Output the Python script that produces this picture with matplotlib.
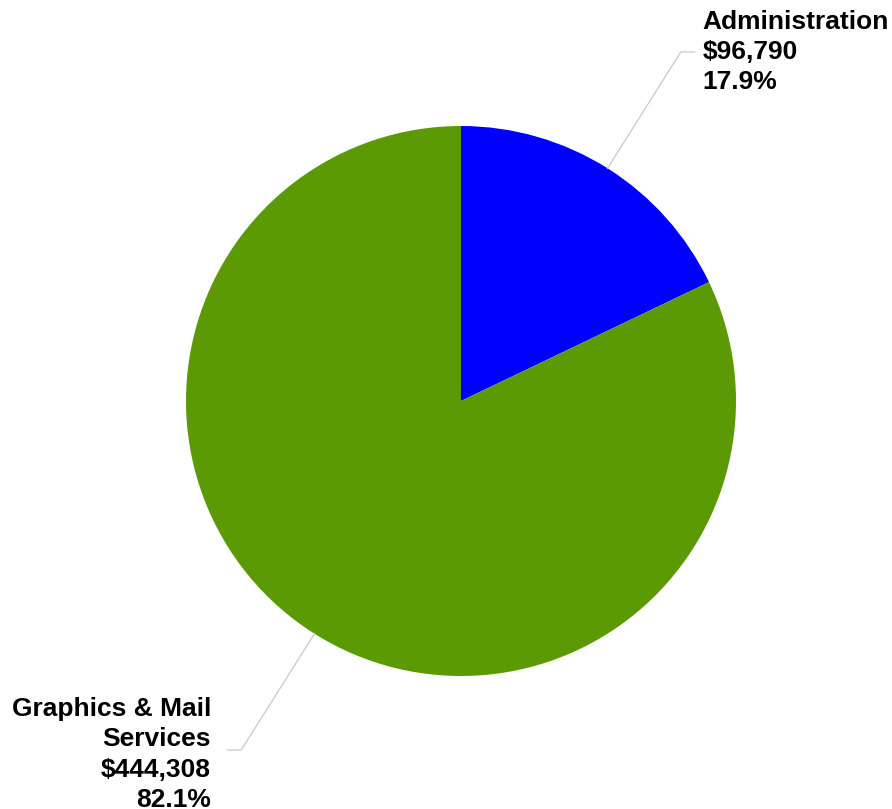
import numpy as np
import matplotlib.pyplot as plt

labels = ['Administration', 'Graphics & Mail\nServices']
values = [96790, 444308]
colors = ['#0000ff', '#5b9a05']

W, H = 892, 809
fig = plt.figure(figsize=(W / 100, H / 100), dpi=100)
ax = fig.add_axes([0, 0, 1, 1])

cx, cy, r = 461, H - 401, 275
wedges, _ = ax.pie(values, colors=colors, startangle=90, counterclock=False,
                   center=(cx, cy), radius=r, frame=True,
                   wedgeprops=dict(linewidth=0))
ax.set_xlim(0, W)
ax.set_ylim(0, H)
ax.set_aspect('equal')
ax.axis('off')

total = sum(values)
font = dict(family=['Liberation Sans', 'DejaVu Sans'], fontsize=19,
            fontweight='bold', color='black', linespacing=1.33)

for w, lab, v in zip(wedges, labels, values):
    mid = np.deg2rad((w.theta1 + w.theta2) / 2)
    dx, dy = np.cos(mid), np.sin(mid)
    x0, y0 = cx + r * dx, cy + r * dy
    x1, y1 = cx + 1.5 * r * dx, cy + 1.5 * r * dy
    side = 1 if dx >= 0 else -1
    x2 = x1 + side * 14
    ax.plot([x0, x1, x2], [y0, y1, y1], color='#c8c8c8', lw=0.9)
    txt = '%s\n$%s\n%.1f%%' % (lab, format(v, ','), 100 * v / total)
    if side > 0:
        ax.text(x2 + 8, y1 + 42, txt, ha='left', va='top', **font)
    else:
        ax.text(x2 - 16, y1 + 53, txt, ha='right', va='top', **font)

fig.savefig('out.png', dpi=100)
